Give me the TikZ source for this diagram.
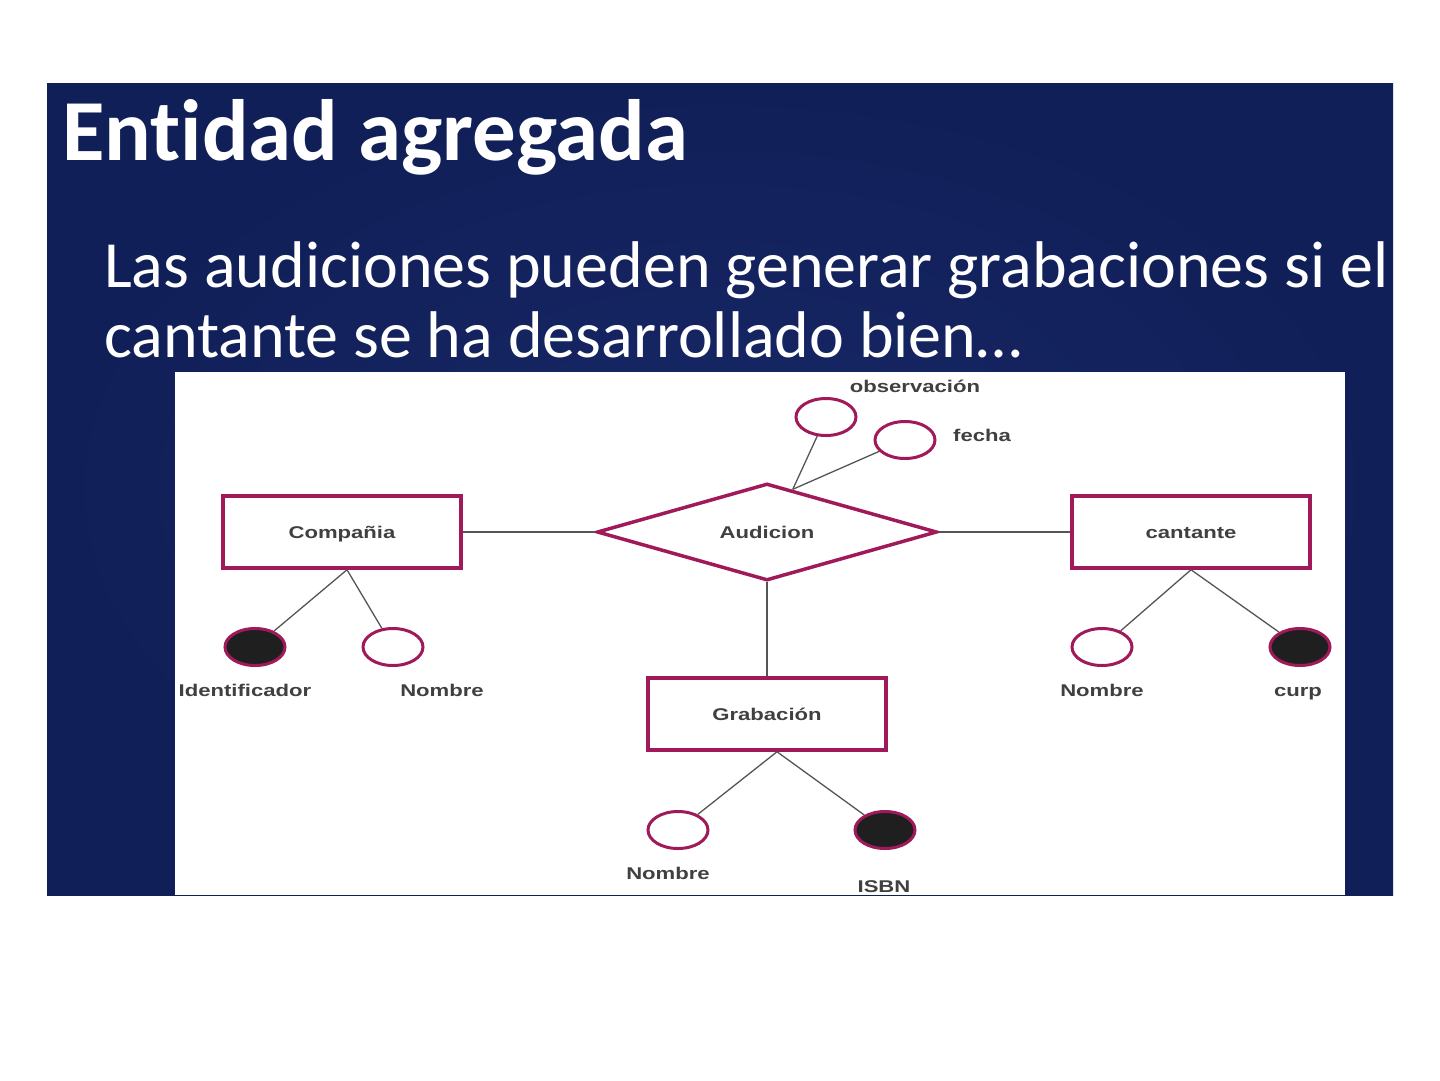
\documentclass[tikz,border=0pt]{standalone}
\usepackage{fontspec}
\setmainfont[Ligatures=NoCommon]{Carlito}
\newfontfamily\erfont[FakeStretch=1.3]{Liberation Sans}
\usetikzlibrary{calc,shapes.geometric}

\definecolor{slideblue}{HTML}{111F58}
\definecolor{slidelight}{HTML}{172866}
\definecolor{erred}{HTML}{A01A5A}
\definecolor{ergray}{HTML}{555555}
\definecolor{ertext}{HTML}{404040}

\tikzset{
  erfuente/.style={font=\erfont\fontsize{17}{17}\selectfont\bfseries, text=ertext, text height=12.5pt, text depth=0.3pt},
  entidad/.style={draw=erred, line width=3.5pt, minimum width=238pt, minimum height=72pt, erfuente},
  relacion/.style={diamond, draw=erred, line width=3.5pt, aspect=3.5, minimum width=340pt, minimum height=97pt, inner sep=0pt, erfuente},
  atributo/.style={ellipse, draw=erred, line width=3pt, minimum width=60pt, minimum height=37pt, inner sep=0pt},
  clave/.style={atributo, fill=black!88},
  etiqueta/.style={erfuente},
  enlace/.style={draw=ergray, line width=1.3pt},
}

\begin{document}
\begin{tikzpicture}[x=1pt, y=-1pt]
  \useasboundingbox (0,0) rectangle (1440,1080);

  % fondo de la diapositiva
  \shade[inner color=slidelight, outer color=slideblue] (47,83) rectangle (1393,895);
  \fill[white] (175,372) rectangle (1345,895);

  % textos
  \node[anchor=base west, inner sep=0pt, text=white, font=\bfseries\fontsize{87}{87}\selectfont] (titulo) at (62,160) {Entidad agregada};
  \node[anchor=base west, inner sep=0pt, text=white, font=\fontsize{66}{66}\selectfont] (linea1) at (104,287) {Las audiciones pueden generar grabaciones si el};
  \node[anchor=base west, inner sep=0pt, text=white, font=\fontsize{66}{66}\selectfont] (linea2) at (104,357) {cantante se ha desarrollado bien\dots};

  % entidades y relacion
  \node[entidad] (comp) at (342,532) {Compañia};
  \node[relacion] (audi) at (767,532) {Audicion};
  \node[entidad] (cant) at (1191,532) {cantante};
  \node[entidad] (grab) at (767,714) {Grabación};

  \draw[enlace] (comp.east) -- (audi.west);
  \draw[enlace] (audi.east) -- (cant.west);
  \draw[enlace] (audi.south) -- (grab.north);

  % atributos de la relacion
  \node[atributo] (obs) at (826,417) {};
  \node[atributo] (fec) at (905,440) {};
  \node[etiqueta] (lblobs) at (915,386) {observación};
  \node[etiqueta] (lblfec) at (982,435) {fecha};
  \coordinate (audtop) at ($(audi.north)!0.15!(audi.east)$);
  \draw[enlace] (audtop) -- (obs);
  \draw[enlace] (audtop) -- (fec);

  % atributos de Compañia
  \node[clave] (compid) at (255,647) {};
  \node[atributo] (compnom) at (393,647) {};
  \node[etiqueta] (lblcompid) at (245,690) {Identificador};
  \node[etiqueta] (lblcompnom) at (442,690) {Nombre};
  \draw[enlace] ($(comp.south)+(5,0)$) -- (compid);
  \draw[enlace] ($(comp.south)+(5,0)$) -- (compnom);

  % atributos de cantante
  \node[atributo] (cantnom) at (1102,647) {};
  \node[clave] (cantcurp) at (1300,647) {};
  \node[etiqueta] (lblcantnom) at (1102,690) {Nombre};
  \node[etiqueta] (lblcantcurp) at (1298,690) {curp};
  \draw[enlace] (cant.south) -- (cantnom);
  \draw[enlace] (cant.south) -- (cantcurp);

  % atributos de Grabacion
  \node[atributo] (grabnom) at (678,830) {};
  \node[clave] (grabisbn) at (885,830) {};
  \node[etiqueta] (lblgrabnom) at (668,873) {Nombre};
  \node[etiqueta] (lblgrabisbn) at (884,886) {ISBN};
  \draw[enlace] ($(grab.south)+(10,0)$) -- (grabnom);
  \draw[enlace] ($(grab.south)+(10,0)$) -- (grabisbn);
\end{tikzpicture}
\end{document}
